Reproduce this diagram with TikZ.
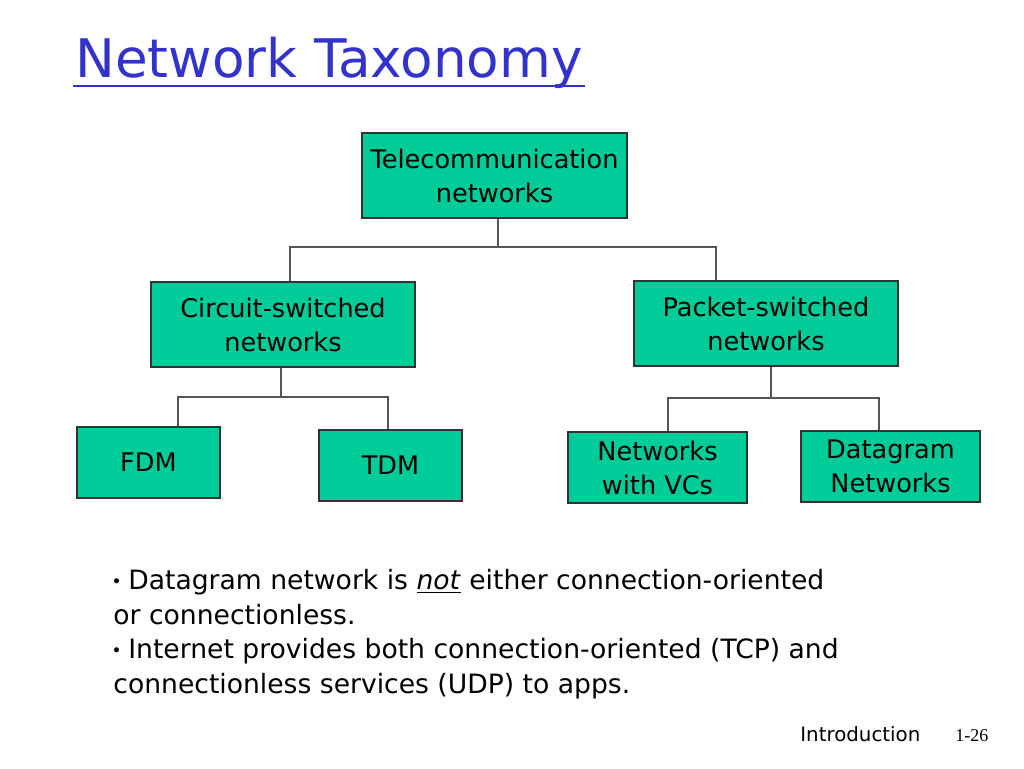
\documentclass[tikz,border=0pt]{standalone}
\usepackage{fontspec}
\setmainfont{DejaVu Sans}
\newfontfamily\pagefont{Liberation Serif}
\usepackage{tikz}
\usetikzlibrary{positioning}
\usetikzlibrary{calc}
\definecolor{boxgreen}{RGB}{0,204,153}
\definecolor{titleblue}{RGB}{51,51,204}
\definecolor{linegray}{RGB}{85,85,85}
\newcommand{\dotmark}{\raisebox{0.2em}{\scalebox{0.45}{$\bullet$}}}
\tikzset{
nb/.style={
  rectangle,
  inner sep=0pt,
  align=center,
  draw=black!80,
  line width=0.8pt,
  fill=boxgreen,
  font=\fontsize{12.8}{17}\selectfont
  },
link/.style={
  draw=linegray,
  line width=0.9pt
  }
}
\begin{document}
\begin{tikzpicture}[x=0.5pt,y=-0.5pt]
            \useasboundingbox (0,0) rectangle (1024,768);
            \node[anchor=base west,inner sep=0pt,text=titleblue,font=\fontsize{26.6}{30}\selectfont] (title) at (75,77) {Network Taxonomy};
            \draw[titleblue,line width=1.4pt] ($(title.base west)+(-2,9)$) -- ($(title.base east)+(2,9)$);
            \node[nb,minimum width=132.5pt,minimum height=42.5pt] (tele) at (494.5,175.5) {Telecommunication\\networks};
            \node[nb,minimum width=132pt,minimum height=42.5pt]   (circ) at (283,324.5) {Circuit-switched\\networks};
            \node[nb,minimum width=132pt,minimum height=42.5pt]   (pack) at (766,323.5) {Packet-switched\\networks};
            \node[nb,minimum width=71.5pt,minimum height=35.5pt]  (fdm)  at (148.5,462.5) {FDM};
            \node[nb,minimum width=71.5pt,minimum height=35.5pt]  (tdm)  at (390.5,465.5) {TDM};
            \node[nb,minimum width=89.5pt,minimum height=35.5pt]  (vc)   at (657.5,467.5) {Networks\\with VCs};
            \node[nb,minimum width=89.5pt,minimum height=35.5pt]  (dg)   at (890.5,466.5) {Datagram\\Networks};
            % tree links
            \draw[link] ($(tele.south)+(3.5,0)$) -- ++(0,28) coordinate (tj);
            \draw[link] ($(circ.north)+(7,0)$) |- (tj) -| ($(pack.north)+(-50,0)$);
            \draw[link] ($(circ.south)+(-2,0)$) -- ++(0,29) coordinate (cj);
            \draw[link] ($(fdm.north)+(29.5,0)$) |- (cj) -| ($(tdm.north)+(-2.5,0)$);
            \draw[link] ($(pack.south)+(5,0)$) -- ++(0,31) coordinate (pj);
            \draw[link] ($(vc.north)+(10.5,0)$) |- (pj) -| ($(dg.north)+(-11.5,0)$);
            % notes
            \node[anchor=north west,inner sep=0pt,align=left,font=\fontsize{13.3}{17.3}\selectfont] (notes) at (113,569)
              {\dotmark{} Datagram network is \underline{\textit{not}} either connection-oriented\\
               or connectionless.\\
               \dotmark{} Internet provides both connection-oriented (TCP) and\\
               connectionless services (UDP) to apps.};
            \node[anchor=base west,inner sep=0pt,font=\fontsize{9.9}{11}\selectfont] (intro) at (800,741) {Introduction};
            \node[anchor=base west,inner sep=0pt,font=\pagefont\fontsize{9}{10}\selectfont] (pg) at (955,741) {1-26};
        \end{tikzpicture}
\end{document}
